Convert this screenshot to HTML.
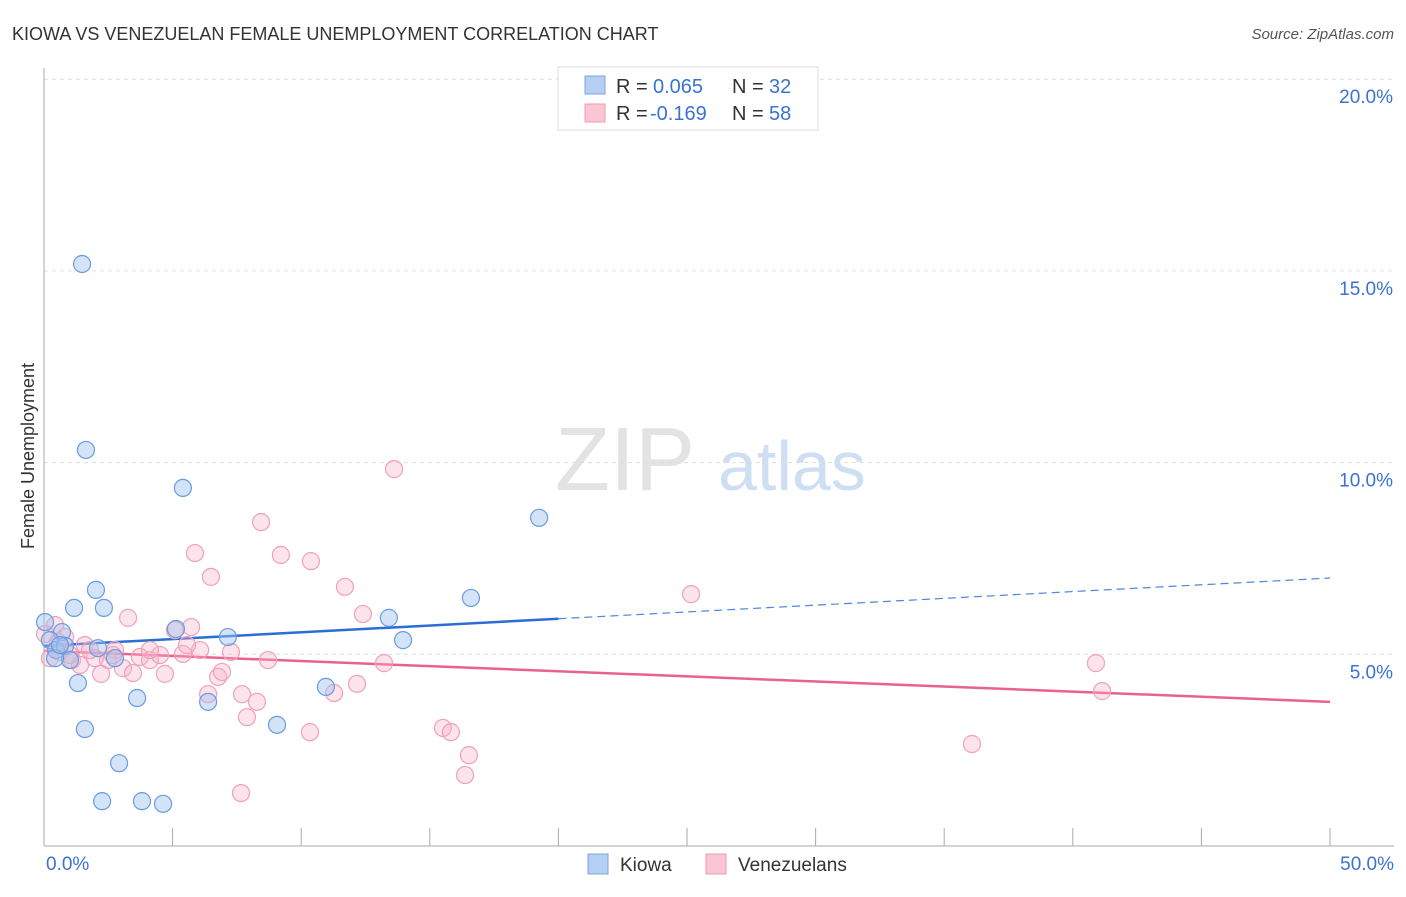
<!DOCTYPE html>
<html><head><meta charset="utf-8"><style>
body{margin:0;background:#fff;font-family:"Liberation Sans",sans-serif}
svg text{font-family:"Liberation Sans",sans-serif}
</style></head><body>
<svg id="chart" width="1406" height="892">
<text x="12" y="40" font-size="18" fill="#333">KIOWA VS VENEZUELAN FEMALE UNEMPLOYMENT CORRELATION CHART</text>
<text x="1394" y="39" font-size="15" fill="#555" text-anchor="end" font-style="italic">Source: ZipAtlas.com</text>
<text x="34" y="456" font-size="18" fill="#333" text-anchor="middle" transform="rotate(-90 34 456)">Female Unemployment</text>
<g>
<text x="555" y="490" font-size="90" font-family="Liberation Serif,serif" fill="#e3e3e3">ZIP</text>
<text x="718" y="490" font-size="70" fill="#cfdff3">atlas</text>
</g>
<g id="grid"></g><g id="axes"></g><g id="trend"></g><g id="pts"></g>
<g>
<rect x="558" y="67" width="260" height="63" fill="#fff" stroke="#ddd"/>
<rect x="585" y="76" width="20" height="18" fill="#b5cff3" stroke="#7aa5e2"/>
<text x="616" y="93" font-size="20" fill="#333">R = </text><text x="653" y="93" font-size="20" fill="#3a73d0">0.065</text>
<text x="732" y="93" font-size="20" fill="#333">N = </text><text x="769" y="93" font-size="20" fill="#3a73d0">32</text>
<rect x="585" y="104" width="20" height="18" fill="#fac6d4" stroke="#f09ab3"/>
<text x="616" y="120" font-size="20" fill="#333">R = </text><text x="650" y="120" font-size="20" fill="#3a73d0">-0.169</text>
<text x="732" y="120" font-size="20" fill="#333">N = </text><text x="769" y="120" font-size="20" fill="#3a73d0">58</text>
</g>
<g>
<rect x="588" y="854" width="20" height="20" fill="#b5cff3" stroke="#7aa5e2"/>
<text x="620" y="871" font-size="19" fill="#333">Kiowa</text>
<rect x="706" y="854" width="20" height="20" fill="#fac6d4" stroke="#f09ab3"/>
<text x="738" y="871" font-size="19" fill="#333">Venezuelans</text>
</g>
</svg>
<script>
const yTicks=[5,10,15,20];
const yTickLabels=["5.0%","10.0%","15.0%","20.0%"];
const xTickLabels=["0.0%","50.0%"];
const kiowaX=[1.48,1.63,5.40,19.25,2.02,1.17,2.33,16.60,13.41,13.96,0.04,0.70,0.23,0.47,0.82,2.10,2.76,5.13,7.15,1.01,0.43,1.32,3.62,6.38,10.96,9.06,1.59,2.92,2.26,3.81,4.63,0.62];
const kiowaY=[15.18,10.33,9.34,8.56,6.68,6.21,6.21,6.47,5.95,5.37,5.84,5.58,5.37,5.11,5.22,5.16,4.90,5.66,5.45,4.85,4.90,4.25,3.86,3.76,4.15,3.16,3.05,2.16,1.17,1.17,1.10,5.24];
const venX=[13.61,8.44,5.87,9.21,10.38,6.49,11.70,25.16,12.40,3.27,5.72,5.09,0.43,0.82,1.59,2.76,3.73,4.12,4.51,5.40,6.07,7.27,8.71,13.22,40.90,0.62,0.23,1.09,1.40,1.98,2.49,3.07,3.46,4.70,2.22,6.77,6.92,6.38,7.70,8.28,11.28,12.17,7.89,10.34,15.51,15.82,41.14,16.52,16.37,36.08,7.66,0.04,0.54,1.01,1.79,4.12,5.56,2.68];
const venY=[9.83,8.45,7.64,7.59,7.43,7.02,6.76,6.57,6.05,5.95,5.71,5.63,5.76,5.45,5.24,5.11,4.93,4.85,4.98,5.01,5.11,5.06,4.85,4.77,4.77,5.06,4.90,4.85,4.72,4.90,4.85,4.64,4.51,4.49,4.49,4.41,4.54,3.96,3.96,3.76,3.99,4.23,3.36,2.97,3.08,2.97,4.04,2.37,1.85,2.66,1.38,5.53,5.32,4.98,5.11,5.11,5.24,4.98];
const kiowaTrend=[5.22,6.99];
const venTrend=[5.09,3.76];
const NS="http://www.w3.org/2000/svg";
const X=v=>44+v*25.72, Y=v=>846-v*38.34;
function mk(t,a,p){const e=document.createElementNS(NS,t);for(const k in a)e.setAttribute(k,a[k]);document.getElementById(p).appendChild(e);return e;}
yTicks.forEach((t,i)=>{
 const l=mk('line',{x1:44,x2:1394,y1:Y(t),y2:Y(t),stroke:'#ddd','stroke-dasharray':'4,4'},'grid');
 
 
 const tx=mk('text',{x:1393,y:Y(t)+24,'font-size':19,fill:'#3a73d0','text-anchor':'end'},'grid');
 tx.textContent=yTickLabels[i];
 
 
});
const ya=mk('line',{x1:44,x2:44,y1:68,y2:846,stroke:'#aaa'},'axes');


const xa=mk('line',{x1:44,x2:1394,y1:846,y2:846,stroke:'#aaa'},'axes');


for(let i=0;i<=10;i++){const t=mk('line',{x1:X(i*5),x2:X(i*5),y1:828,y2:846,stroke:'#aaa'},'axes');
 
 }
[[0,'start',46],[50,'end',1394]].forEach((d,i)=>{const t=mk('text',{x:d[2],y:870,'font-size':19,fill:'#3a73d0','text-anchor':d[1]},'axes');t.textContent=xTickLabels[i];
 
 });
function pts(xs,ys,fill,stroke,name){xs.forEach((x,i)=>{const c=mk('circle',{cx:X(x),cy:Y(ys[i]),r:8.5,fill:fill,stroke:stroke,'stroke-width':1.2},'pts');
 
 });}
pts(venX,venY,'rgba(248,178,200,0.35)','#f0a0b8','venezuelan-point');
pts(kiowaX,kiowaY,'rgba(160,196,240,0.45)','#6a9be0','kiowa-point');
const b1=mk('line',{x1:X(0),y1:Y(kiowaTrend[0]),x2:X(20),y2:Y(kiowaTrend[0]+(kiowaTrend[1]-kiowaTrend[0])*0.4),stroke:'#2a6fd6','stroke-width':2.5},'trend');


const b2=mk('line',{x1:X(20),y1:Y(kiowaTrend[0]+(kiowaTrend[1]-kiowaTrend[0])*0.4),x2:X(50),y2:Y(kiowaTrend[1]),stroke:'#4a86de','stroke-width':1.2,'stroke-dasharray':'8,5'},'trend');


const p1=mk('line',{x1:X(0),y1:Y(venTrend[0]),x2:X(50),y2:Y(venTrend[1]),stroke:'#e8628e','stroke-width':2.5},'trend');


</script>
</body></html>
